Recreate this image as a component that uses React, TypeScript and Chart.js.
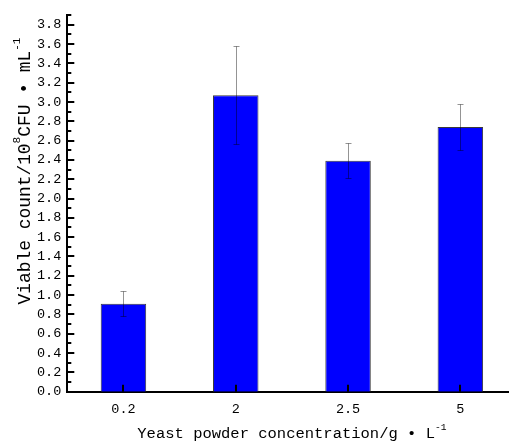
import React, { useEffect, useRef } from 'react';
import { Chart, registerables } from 'chart.js';

Chart.register(...registerables);

// ---- data ----
const categories = ['0.2', '2', '2.5', '5'];
const viableCounts = [0.91, 3.07, 2.39, 2.74];
const countErrors = [0.13, 0.51, 0.18, 0.24];
const yMin = 0;
const yMax = 3.9;
const yStep = 0.1;

type Run = { t: string; sup?: boolean };
const xTitleRuns: Run[] = [{ t: 'Yeast powder concentration/g • L' }, { t: '-1', sup: true }];
const yTitleRuns: Run[] = [
  { t: 'Viable count/10' },
  { t: '8', sup: true },
  { t: 'CFU • mL' },
  { t: '-1', sup: true },
];

const FONT = '"Liberation Mono", "DejaVu Sans Mono", monospace';
const CANVAS_W = 530;
const CANVAS_H = 443;

function drawRuns(
  ctx: CanvasRenderingContext2D,
  runs: Run[],
  cx: number,
  cy: number,
  size: number,
  rotate: boolean
) {
  ctx.save();
  ctx.translate(cx, cy);
  if (rotate) ctx.rotate(-Math.PI / 2);
  ctx.fillStyle = '#000';
  ctx.textBaseline = 'middle';
  ctx.textAlign = 'left';
  const supSize = size * 0.62;
  const fontFor = (r: Run) => `${r.sup ? supSize : size}px ${FONT}`;
  let total = 0;
  const widths = runs.map((r) => {
    ctx.font = fontFor(r);
    const w = ctx.measureText(r.t).width;
    total += w;
    return w;
  });
  let x = -total / 2;
  runs.forEach((r, i) => {
    ctx.font = fontFor(r);
    ctx.fillText(r.t, x, r.sup ? -size * 0.42 : 0);
    x += widths[i];
  });
  ctx.restore();
}

const decorPlugin = {
  id: 'decor',
  afterDatasetsDraw(chart: any) {
    const ctx: CanvasRenderingContext2D = chart.ctx;
    const meta = chart.getDatasetMeta(0);
    const ys = chart.scales.y;
    ctx.save();
    ctx.strokeStyle = 'rgba(0,0,0,0.42)';
    ctx.lineWidth = 1;
    meta.data.forEach((bar: any, i: number) => {
      const cx = Math.round(bar.x) + 0.5;
      const top = Math.round(ys.getPixelForValue(viableCounts[i] + countErrors[i])) + 0.5;
      const bot = Math.round(ys.getPixelForValue(viableCounts[i] - countErrors[i])) + 0.5;
      ctx.beginPath();
      ctx.moveTo(cx, top);
      ctx.lineTo(cx, bot);
      ctx.moveTo(cx - 3, top);
      ctx.lineTo(cx + 3, top);
      ctx.moveTo(cx - 3, bot);
      ctx.lineTo(cx + 3, bot);
      ctx.stroke();
    });
    ctx.restore();
  },
  afterDraw(chart: any) {
    const ctx: CanvasRenderingContext2D = chart.ctx;
    const area = chart.chartArea;
    const ys = chart.scales.y;
    const xs = chart.scales.x;
    ctx.save();
    ctx.strokeStyle = '#000';
    ctx.lineWidth = 2;
    ctx.beginPath();
    ys.ticks.forEach((tk: any, i: number) => {
      const py = Math.round(ys.getPixelForValue(tk.value));
      const len = i % 2 === 0 ? 7 : 4;
      ctx.moveTo(area.left, py);
      ctx.lineTo(area.left + len, py);
    });
    categories.forEach((_, i) => {
      const px = Math.round(xs.getPixelForValue(i));
      ctx.moveTo(px, area.bottom);
      ctx.lineTo(px, area.bottom - 7);
    });
    ctx.stroke();
    ctx.restore();

    drawRuns(ctx, xTitleRuns, (area.left + area.right) / 2, 434, 15.5, false);
    drawRuns(ctx, yTitleRuns, 25, 171, 17.9, true);
  },
};

export default function App() {
  const canvasRef = useRef<HTMLCanvasElement | null>(null);

  useEffect(() => {
    if (!canvasRef.current) return;
    const chart = new Chart(canvasRef.current, {
      type: 'bar',
      data: {
        labels: categories,
        datasets: [
          {
            data: viableCounts,
            backgroundColor: '#0000FF',
            borderColor: '#3a3a3a',
            borderWidth: 1,
            barPercentage: 0.405,
            categoryPercentage: 1,
          },
        ],
      },
      options: {
        responsive: false,
        animation: false,
        devicePixelRatio: 1,
        layout: { padding: { top: 15, right: CANVAS_W - 516.5, bottom: 0, left: 0 } },
        plugins: {
          legend: { display: false },
          tooltip: { enabled: false },
          title: { display: false },
        },
        scales: {
          x: {
            grid: { display: false, drawTicks: false },
            border: { display: true, color: '#000', width: 2 },
            ticks: {
              color: '#000',
              font: { family: FONT, size: 13.5 },
              padding: 10,
              maxRotation: 0,
            },
            afterFit: (scale: any) => {
              scale.height = CANVAS_H - 391.7;
            },
          },
          y: {
            min: yMin,
            max: yMax,
            grid: { display: false, drawTicks: false },
            border: { display: true, color: '#000', width: 2 },
            ticks: {
              stepSize: yStep,
              autoSkip: false,
              maxTicksLimit: 100,
              color: '#000',
              font: { family: FONT, size: 13.5 },
              padding: 6,
              callback: (value: any, index: number) =>
                index % 2 === 0 ? Number(value).toFixed(1) : '',
            },
            afterFit: (scale: any) => {
              scale.width = 67.3;
            },
          },
        },
      },
      plugins: [decorPlugin],
    });
    return () => chart.destroy();
  }, []);

  return (
    <div
      style={{
        position: 'fixed',
        left: 0,
        top: 0,
        width: 509,
        height: 443,
        overflow: 'hidden',
        background: '#fff',
      }}
    >
      <canvas ref={canvasRef} width={CANVAS_W} height={CANVAS_H} style={{ display: 'block' }} />
    </div>
  );
}
